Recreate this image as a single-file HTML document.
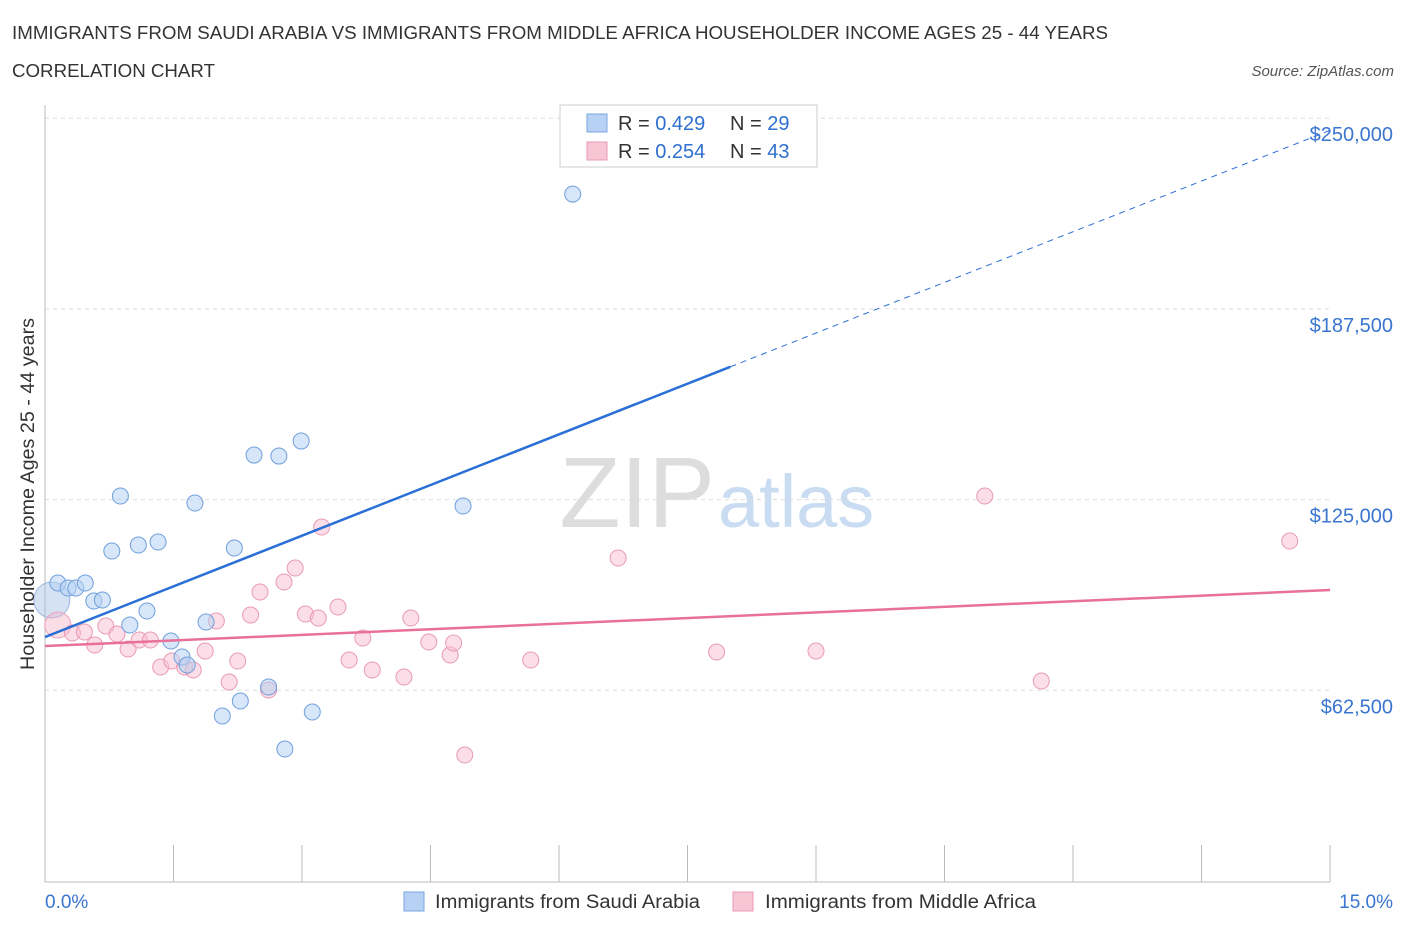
<!DOCTYPE html>
<html><head><meta charset="utf-8"><style>
body{margin:0;background:#fff;font-family:"Liberation Sans",sans-serif;}
svg text{font-family:"Liberation Sans",sans-serif;}
</style></head><body>
<svg id="chart" width="1406" height="930" xmlns="http://www.w3.org/2000/svg">
<text x="12" y="39" font-size="18" fill="#333" textLength="1096" lengthAdjust="spacingAndGlyphs">IMMIGRANTS FROM SAUDI ARABIA VS IMMIGRANTS FROM MIDDLE AFRICA HOUSEHOLDER INCOME AGES 25 - 44 YEARS</text>
<text x="12" y="77" font-size="18" fill="#333" textLength="203" lengthAdjust="spacingAndGlyphs">CORRELATION CHART</text>
<text x="1394" y="76" font-size="15" font-style="italic" fill="#555" text-anchor="end">Source: ZipAtlas.com</text>
<text x="715" y="527" font-size="100" text-anchor="end" fill="#ddd" font-family="Liberation Serif">ZIP</text>
<text x="718" y="527" font-size="74" fill="#c9dcf2">atlas</text>
<g id="grid"></g>
<g id="axes"></g>
<g id="marks"></g>
<text transform="translate(34,494) rotate(-90)" font-size="19" fill="#333" text-anchor="middle" textLength="352" lengthAdjust="spacingAndGlyphs">Householder Income Ages 25 - 44 years</text>
<text x="45" y="908" font-size="19" fill="#3a75d0">0.0%</text>
<text x="1393" y="908" font-size="19" fill="#3a75d0" text-anchor="end">15.0%</text>
<g>
<rect x="560" y="105" width="257" height="62" fill="#fff" stroke="#ccc"/>
<rect x="587" y="114" width="20" height="18" fill="#b6d1f3" stroke="#7aa7e0"/>
<rect x="587" y="142" width="20" height="18" fill="#f8c5d5" stroke="#e99ab5"/>
<text x="618" y="130" font-size="20" fill="#333">R = <tspan fill="#2f6fd0">0.429</tspan></text>
<text x="730" y="130" font-size="20" fill="#333">N = <tspan fill="#2f6fd0">29</tspan></text>
<text x="618" y="158" font-size="20" fill="#333">R = <tspan fill="#2f6fd0">0.254</tspan></text>
<text x="730" y="158" font-size="20" fill="#333">N = <tspan fill="#2f6fd0">43</tspan></text>
</g>
<g>
<rect x="404" y="892" width="20" height="19" fill="#b6d1f3" stroke="#7aa7e0"/>
<text x="435" y="908" font-size="19" fill="#333" textLength="265" lengthAdjust="spacingAndGlyphs">Immigrants from Saudi Arabia</text>
<rect x="733" y="892" width="20" height="19" fill="#f8c5d5" stroke="#e99ab5"/>
<text x="765" y="908" font-size="19" fill="#333" textLength="271" lengthAdjust="spacingAndGlyphs">Immigrants from Middle Africa</text>
</g>
</svg>
<script>
const yTicks=[62500,125000,187500,250000];
const yTickLabels=["$62,500","$125,000","$187,500","$250,000"];
const blueX=[0.15,0.27,0.36,0.47,0.57,0.67,0.78,0.88,0.99,1.09,1.19,1.32,1.47,1.60,1.66,1.75,1.88,2.07,2.21,2.28,2.44,2.61,2.73,2.80,2.99,3.12,4.88,6.16];
const blueY=[97655,96016,96016,97655,91756,92084,108141,126165,83891,110107,88479,111090,78648,73405,70783,123871,84874,54070,109124,58986,139600,63574,139272,43256,144188,55381,122888,225130];
const pinkX=[0.32,0.46,0.58,0.71,0.84,0.97,1.10,1.23,1.35,1.48,1.63,1.73,1.87,2.00,2.15,2.25,2.40,2.51,2.61,2.79,2.92,3.04,3.19,3.23,3.42,3.55,3.71,3.82,4.19,4.27,4.48,4.73,4.77,4.90,5.67,6.69,7.84,9.00,10.97,11.63,14.53];
const pinkY=[81270,81597,77337,83563,80942,76026,78976,78976,70128,72094,70128,69145,75371,85202,65212,72094,87168,94705,62591,97982,102570,87496,86185,116006,89790,72422,79631,69145,66851,86185,78320,74060,77992,41290,72422,105847,75043,75371,126165,65540,111418];
const blueTrend=[79959,246000];
const pinkTrend=[77000,95360];
const NS="http://www.w3.org/2000/svg";
const xs=p=>45+p/15*1285;
const ys=v=>881-v/62500*190.7;
function mk(tag,attrs,parent){const e=document.createElementNS(NS,tag);for(const k in attrs)e.setAttribute(k,attrs[k]);parent.appendChild(e);return e;}
const grid=document.getElementById('grid'),axes=document.getElementById('axes'),marks=document.getElementById('marks');
yTicks.forEach((t,i)=>{
 const l=mk('line',{x1:45,x2:1330,y1:ys(t),y2:ys(t),stroke:'#ddd','stroke-dasharray':'4,4'},grid);
 
 
 const tx=mk('text',{x:1393,y:ys(t)+23,'font-size':20,fill:'#3a75d0','text-anchor':'end'},axes);
 tx.textContent=yTickLabels[i];
 
 
});
const ya=mk('line',{x1:45,x2:45,y1:105,y2:882,stroke:'#bbb'},axes);


const xa=mk('line',{x1:45,x2:1330,y1:882,y2:882,stroke:'#bbb'},axes);


for(let i=0;i<=10;i++){
 const t=mk('line',{x1:xs(i*1.5),x2:xs(i*1.5),y1:845,y2:882,stroke:'#bbb'},axes);
 
 
}
const bb=mk('circle',{cx:xs(0.08),cy:ys(92084),r:18,fill:'rgba(160,190,230,0.45)',stroke:'#9bb8e0'},marks);


const pb=mk('circle',{cx:xs(0.15),cy:ys(83891),r:13,fill:'rgba(246,180,200,0.45)',stroke:'#eea2bb'},marks);


pinkX.forEach((x,i)=>{
 const c=mk('circle',{cx:xs(x),cy:ys(pinkY[i]),r:8,fill:'rgba(248,190,208,0.5)',stroke:'#e99ab5','stroke-width':1},marks);
 
 
});
blueX.forEach((x,i)=>{
 const c=mk('circle',{cx:xs(x),cy:ys(blueY[i]),r:8,fill:'rgba(182,209,243,0.55)',stroke:'#6f9fdc','stroke-width':1},marks);
 
 
});
const bv=x=>blueTrend[0]+(blueTrend[1]-blueTrend[0])*x/15;
const pv=x=>pinkTrend[0]+(pinkTrend[1]-pinkTrend[0])*x/15;
const bl=mk('line',{x1:xs(0),y1:ys(bv(0)),x2:xs(8),y2:ys(bv(8)),stroke:'#2a6fd6','stroke-width':2.5},marks);


const bd=mk('line',{x1:xs(8),y1:ys(bv(8)),x2:xs(15),y2:ys(bv(15)),stroke:'#2a6fd6','stroke-width':1,'stroke-dasharray':'6,5'},marks);


const pl=mk('line',{x1:xs(0),y1:ys(pv(0)),x2:xs(15),y2:ys(pv(15)),stroke:'#e8709a','stroke-width':2.5},marks);


</script>
</body></html>
